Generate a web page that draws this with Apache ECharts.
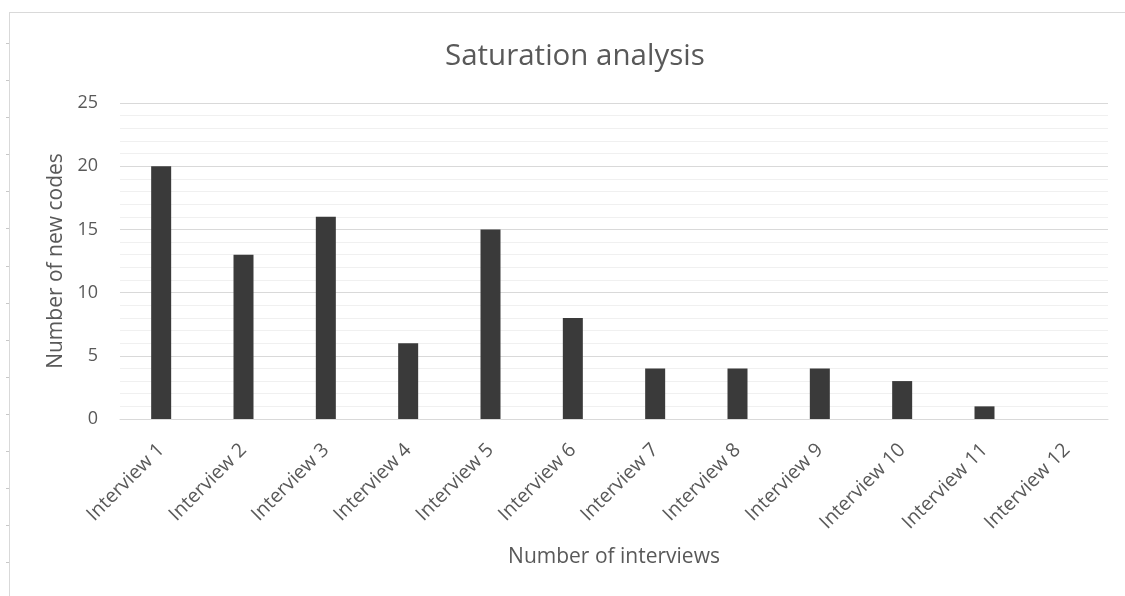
<!DOCTYPE html>
<html>
<head>
<meta charset="utf-8">
<script src="https://cdn.jsdelivr.net/npm/echarts@6/dist/echarts.min.js"></script>
<style>
  html, body { margin: 0; padding: 0; background: #fff; }
  #chart { width: 1125px; height: 596px; }
</style>
</head>
<body>
<div id="chart"></div>
<script>
// Interview categories and the number of new codes found in each
const interviews = ['Interview 1', 'Interview 2', 'Interview 3', 'Interview 4', 'Interview 5', 'Interview 6',
                    'Interview 7', 'Interview 8', 'Interview 9', 'Interview 10', 'Interview 11', 'Interview 12'];
const newCodes = [20, 13, 16, 6, 15, 8, 4, 4, 4, 3, 1, 0];
const yTicks = { min: 0, max: 25, interval: 5 };

const textColor = '#595959';
const fontFamily = '"Open Sans", "Noto Sans", sans-serif';

// Frame around the chart area with small ruler ticks on its left edge
const frame = [
  { type: 'line', shape: { x1: 9.5, y1: 12, x2: 9.5, y2: 596 }, style: { stroke: '#d9d9d9', lineWidth: 1 }, silent: true },
  { type: 'line', shape: { x1: 9, y1: 12.5, x2: 1125, y2: 12.5 }, style: { stroke: '#d9d9d9', lineWidth: 1 }, silent: true }
];
for (let y = 43; y < 596; y += 37.1) {
  frame.push({ type: 'line', shape: { x1: 6, y1: Math.round(y) + 0.5, x2: 9, y2: Math.round(y) + 0.5 },
               style: { stroke: '#c8c8c8', lineWidth: 1 }, silent: true });
}

const chart = echarts.init(document.getElementById('chart'), null, { renderer: 'canvas' });
chart.setOption({
  backgroundColor: '#ffffff',
  animation: false,
  textStyle: { fontFamily: fontFamily },
  graphic: frame,
  title: {
    text: 'Saturation analysis',
    left: 440,
    top: 37,
    textStyle: { color: textColor, fontSize: 29.5, fontWeight: 'normal', fontFamily: fontFamily }
  },
  grid: { left: 120, right: 17, top: 103, bottom: 177, containLabel: false },
  xAxis: {
    type: 'category',
    data: interviews,
    name: 'Number of interviews',
    nameLocation: 'middle',
    nameGap: 128,
    nameTextStyle: { color: textColor, fontSize: 21, fontFamily: fontFamily },
    axisLine: { lineStyle: { color: '#d9d9d9', width: 1 } },
    axisTick: { show: false },
    axisLabel: { color: textColor, fontSize: 19.5, rotate: 45, margin: 28, fontFamily: fontFamily, interval: 0 }
  },
  yAxis: {
    type: 'value',
    min: yTicks.min,
    max: yTicks.max,
    interval: yTicks.interval,
    name: 'Number of new codes',
    nameLocation: 'middle',
    nameGap: 52,
    nameTextStyle: { color: textColor, fontSize: 21, fontFamily: fontFamily },
    axisLine: { show: false },
    axisTick: { show: false },
    axisLabel: { color: textColor, fontSize: 18, margin: 22, fontFamily: fontFamily },
    splitLine: { lineStyle: { color: '#d9d9d9', width: 1 } },
    minorTick: { show: false, splitNumber: 5 },
    minorSplitLine: { show: true, lineStyle: { color: '#f0f0f0', width: 1 } }
  },
  series: [{
    type: 'bar',
    data: newCodes,
    barWidth: 20,
    itemStyle: { color: '#3a3a3a' }
  }]
});
</script>
</body>
</html>
